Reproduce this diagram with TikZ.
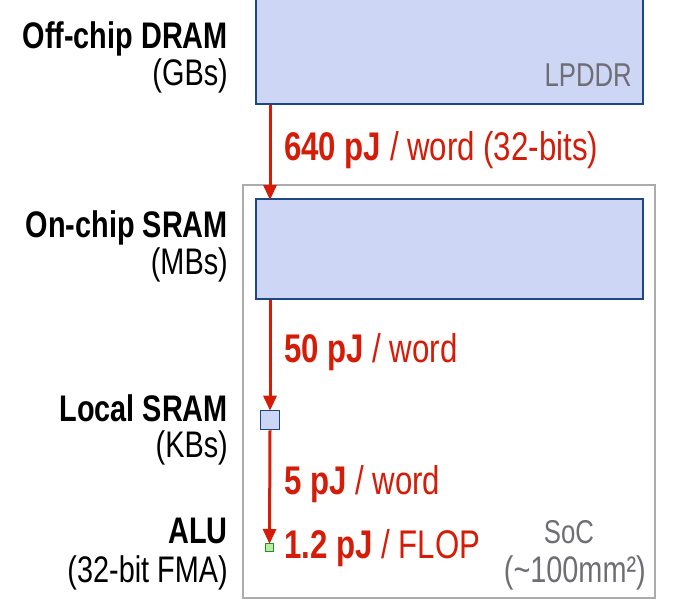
\documentclass[tikz,border=0pt]{standalone}
\usepackage{fontspec}
\setmainfont{Liberation Sans}[FakeStretch=0.78]
\usepackage{tikz}
\usetikzlibrary{arrows.meta}

\definecolor{memfill}{RGB}{206,214,246}
\definecolor{memline}{RGB}{28,72,134}
\definecolor{flowred}{RGB}{212,28,8}
\definecolor{socgray}{RGB}{172,172,172}
\definecolor{notegray}{RGB}{110,110,116}
\definecolor{alufill}{RGB}{184,238,160}
\definecolor{aluline}{RGB}{40,140,40}

\tikzset{
  membox/.style={draw=memline,fill=memfill,line width=2pt,inner sep=0pt,anchor=north west},
  flow/.style={flowred,line width=3pt,-{Triangle[length=15pt,width=13pt]}},
  cost/.style={flowred,anchor=base west,inner sep=0pt,font=\fontsize{40}{40}\selectfont},
  level/.style={anchor=base east,inner sep=0pt,font=\fontsize{37}{37}\selectfont},
  note/.style={notegray,inner sep=0pt,font=\fontsize{33}{33}\selectfont}
}

\begin{document}
\begin{tikzpicture}[x=1pt,y=-1pt]
\useasboundingbox (0,0) rectangle (679,613);

% SoC outline
\draw[socgray,line width=2pt] (243,185) rectangle (655,598);

% memories
\node[membox,minimum width=387pt,minimum height=113pt] (dram) at (255,-10) {};
\node[membox,minimum width=387pt,minimum height=100pt] (sram) at (255,198) {};
\node[draw=memline,fill=memfill,line width=1.6pt,minimum size=19pt,inner sep=0pt] (lsram) at (270,420) {};
\node[draw=aluline,fill=alufill,line width=1pt,minimum size=8pt,inner sep=0pt] (alu) at (269.5,547.5) {};

\node[note,anchor=base east] (lpddr) at (632,86) {LPDDR};
\node[note,anchor=base] (soc) at (569,543) {SoC};
\node[note,anchor=base east,font=\fontsize{37}{37}\selectfont] (socarea) at (646,582) {({\char"7E}100mm²)};

% data movement
\draw[flow] (dram.south -| lsram) -- ([yshift=-2pt]sram.north -| lsram);
\draw[flow] (sram.south -| lsram) -- ([yshift=-1pt]lsram.north);
\draw[flow] (lsram.south) -- ([yshift=-1pt]alu.north);

\node[cost] (c1) at (284,160) {\textbf{640 pJ} / word (32-bits)};
\node[cost] (c2) at (284,362) {\textbf{50 pJ} / word};
\node[cost] (c3) at (284,494) {\textbf{5 pJ} / word};
\node[cost] (c4) at (284,558) {\textbf{1.2 pJ} / FLOP};

% hierarchy labels
\node[level] (l1) at (228,48) {\textbf{Off-chip DRAM}};
\node[level] (l1s) at (228,85) {(GBs)};
\node[level] (l2) at (228,237) {\textbf{On-chip SRAM}};
\node[level] (l2s) at (228,274) {(MBs)};
\node[level] (l3) at (228,421) {\textbf{Local SRAM}};
\node[level] (l3s) at (228,457) {(KBs)};
\node[level] (l4) at (228,543) {\textbf{ALU}};
\node[level] (l4s) at (228,582) {(32-bit FMA)};
\end{tikzpicture}
\end{document}
